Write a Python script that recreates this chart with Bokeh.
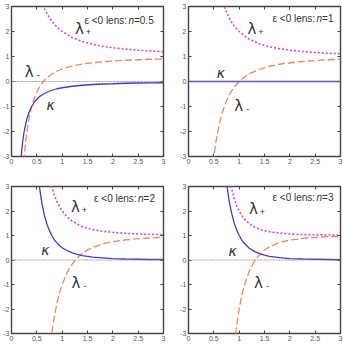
from bokeh.plotting import figure
from bokeh.layouts import column, row
from bokeh.models import LinearAxis, Span, Label, FixedTicker, Range1d
from bokeh.embed import file_html
from bokeh.resources import INLINE

# ---------------- data ----------------
n_values = ["0.5", "1", "2", "3"]

theta_n05 = [0.15, 0.175, 0.2, 0.225, 0.25, 0.3, 0.35, 0.4, 0.45, 0.5, 0.55, 0.6, 0.65, 0.7,
             0.8, 0.9, 1.0, 1.2, 1.4, 1.6, 1.8, 2.0, 2.25, 2.5, 2.75, 3.0]
kappa_n05 = [-4.30, -3.42, -2.80, -2.34, -2.00, -1.52, -1.21, -0.99, -0.83, -0.71, -0.61, -0.54,
             -0.48, -0.43, -0.35, -0.29, -0.25, -0.19, -0.15, -0.12, -0.10, -0.09, -0.07, -0.06,
             -0.055, -0.05]
lplus_n05 = [18.2, 14.66, 12.18, 10.37, 9.0, 7.09, 5.83, 4.95, 4.31, 3.83, 3.45, 3.15, 2.91, 2.71,
             2.40, 2.17, 2.0, 1.76, 1.60, 1.49, 1.41, 1.35, 1.30, 1.25, 1.22, 1.19]
lminus_n05 = [-7.6, -5.83, -4.59, -3.69, -3.0, -2.05, -1.42, -0.98, -0.66, -0.42, -0.23, -0.08,
              0.05, 0.15, 0.30, 0.42, 0.50, 0.62, 0.70, 0.75, 0.79, 0.82, 0.85, 0.87, 0.89, 0.90]

theta_n1 = [0.4, 0.45, 0.5, 0.55, 0.6, 0.65, 0.7, 0.75, 0.8, 0.85, 0.9, 1.0, 1.1, 1.2, 1.4, 1.6,
            1.8, 2.0, 2.25, 2.5, 2.75, 3.0]
theta_kappa_n1 = [0.0, 3.0]
kappa_n1 = [0.0, 0.0]
lplus_n1 = [7.25, 5.94, 5.0, 4.31, 3.78, 3.37, 3.04, 2.78, 2.56, 2.38, 2.23, 2.0, 1.83, 1.69, 1.51,
            1.39, 1.31, 1.25, 1.20, 1.16, 1.13, 1.11]
lminus_n1 = [-5.25, -3.94, -3.0, -2.31, -1.78, -1.37, -1.04, -0.78, -0.56, -0.38, -0.23, 0.0, 0.17,
             0.31, 0.49, 0.61, 0.69, 0.75, 0.80, 0.84, 0.87, 0.89]

theta_n2 = [0.45, 0.5, 0.55, 0.6, 0.65, 0.7, 0.75, 0.8, 0.85, 0.9, 0.95, 1.0, 1.1, 1.2, 1.3, 1.4,
            1.5, 1.6, 1.8, 2.0, 2.25, 2.5, 2.75, 3.0]
kappa_n2 = [5.49, 4.0, 3.0, 2.31, 1.82, 1.46, 1.19, 0.98, 0.81, 0.69, 0.58, 0.5, 0.38, 0.29, 0.23,
            0.18, 0.15, 0.12, 0.09, 0.06, 0.04, 0.03, 0.02, 0.02]
lplus_n2 = [11.97, 9.0, 7.01, 5.63, 4.64, 3.92, 3.37, 2.95, 2.63, 2.37, 2.17, 2.0, 1.75, 1.58, 1.46,
            1.36, 1.30, 1.24, 1.17, 1.13, 1.09, 1.06, 1.05, 1.04]
lminus_n2 = [-20.9, -15.0, -11.0, -8.26, -6.28, -4.83, -3.74, -2.91, -2.26, -1.74, -1.33, -1.0,
             -0.50, -0.16, 0.09, 0.27, 0.41, 0.51, 0.66, 0.75, 0.82, 0.87, 0.90, 0.93]

theta_n3 = [0.6, 0.65, 0.7, 0.75, 0.8, 0.85, 0.9, 0.95, 1.0, 1.05, 1.1, 1.2, 1.3, 1.4, 1.5, 1.6,
            1.8, 2.0, 2.25, 2.5, 2.75, 3.0]
kappa_n3 = [7.72, 5.60, 4.16, 3.16, 2.44, 1.92, 1.52, 1.23, 1.0, 0.82, 0.68, 0.48, 0.35, 0.26, 0.20,
            0.15, 0.10, 0.06, 0.04, 0.03, 0.02, 0.01]
lplus_n3 = [8.72, 6.60, 5.16, 4.16, 3.44, 2.92, 2.52, 2.23, 2.0, 1.82, 1.68, 1.48, 1.35, 1.26, 1.20,
            1.15, 1.10, 1.06, 1.04, 1.03, 1.02, 1.01]
lminus_n3 = [-22.2, -15.8, -11.5, -8.49, -6.32, -4.77, -3.57, -2.69, -2.0, -1.47, -1.05, -0.45,
             -0.05, 0.22, 0.41, 0.54, 0.72, 0.81, 0.88, 0.92, 0.95, 0.96]

xtick_vals = [0, 0.5, 1, 1.5, 2, 2.5, 3]
xtick_labels = ["0", "0.5", "1", "1.5", "2", "2.5", "3"]
ytick_vals = [-3, -2, -1, 0, 1, 2, 3]
ytick_labels = ["-3", "-2", "-1", "0", "1", "2", "3"]

# ---------------- style ----------------
C_KAPPA = "#3c3cd4"
C_LPLUS = "#e040e0"
C_LMINUS = "#f0875a"
FONT = "Liberation Sans"
TICK_COLOR = "#555555"


def make_panel(theta, theta_k, kappa, lplus, lminus, ntext, pos, borders, fh):
    left, right, top, bottom = borders
    p = figure(frame_width=152, frame_height=fh,
               x_range=Range1d(0, 3), y_range=Range1d(-3, 3),
               output_backend="svg", toolbar_location=None,
               min_border_left=left, min_border_right=right,
               min_border_top=top, min_border_bottom=bottom,
               x_axis_type=None, y_axis_type=None)
    p.background_fill_color = "white"
    p.border_fill_color = "white"
    p.outline_line_color = "#444444"
    p.outline_line_width = 1.4
    p.grid.visible = False

    xo = {v: s for v, s in zip(xtick_vals, xtick_labels)}
    yo = {v: s for v, s in zip(ytick_vals, ytick_labels)}
    xe = {v: "" for v in xtick_vals}
    ye = {v: "" for v in ytick_vals}

    for place, ticks, ov, show in (("below", xtick_vals, xo, True), ("above", xtick_vals, xe, False),
                                    ("left", ytick_vals, yo, True), ("right", ytick_vals, ye, False)):
        ax = LinearAxis(ticker=FixedTicker(ticks=ticks), major_label_overrides=ov)
        ax.axis_line_color = None
        ax.major_tick_in = 3
        ax.major_tick_out = 0
        ax.major_tick_line_color = "#444444"
        ax.minor_tick_line_color = None
        ax.major_label_text_font = FONT
        ax.major_label_text_font_size = "7px"
        ax.major_label_text_color = TICK_COLOR
        ax.major_label_standoff = 2 if show else 0
        p.add_layout(ax, place)

    p.add_layout(Span(location=0, dimension="width", line_color="#888888",
                      line_width=0.8, line_dash="2 1"))

    p.line(theta, lplus, line_color=C_LPLUS, line_width=1.6, line_dash="2 2")
    p.line(theta, lminus, line_color=C_LMINUS, line_width=1.3, line_dash="7 3")
    p.line(theta_k, kappa, line_color=C_KAPPA, line_width=1.3)

    ex, ey = pos["eps"]
    p.add_layout(Label(x=ex, y=ey, text="ε <0 lens:", text_font=FONT, text_font_size="10px",
                       text_color="#333333", text_align="left", text_baseline="middle"))
    p.add_layout(Label(x=ex, y=ey, x_offset=44, text="n", text_font=FONT, text_font_size="10px",
                       text_font_style="italic", text_color="#333333", text_align="left",
                       text_baseline="middle"))
    p.add_layout(Label(x=ex, y=ey, x_offset=49.5, text="=" + ntext, text_font=FONT,
                       text_font_size="10px", text_color="#333333", text_align="left",
                       text_baseline="middle"))

    for key, sub in (("lplus", "+"), ("lminus", "-")):
        lx, ly = pos[key]
        p.add_layout(Label(x=lx, y=ly, text="λ", text_font="DejaVu Sans", text_font_size="15px",
                           text_color="#333333", text_align="center", text_baseline="middle"))
        p.add_layout(Label(x=lx, y=ly, x_offset=9, y_offset=-3, text=sub, text_font=FONT,
                           text_font_size="9px", text_color="#333333", text_align="center",
                           text_baseline="middle"))
    kx, ky = pos["kappa"]
    p.add_layout(Label(x=kx, y=ky, text="κ", text_font="DejaVu Sans", text_font_size="14px",
                       text_font_style="italic", text_color="#333333", text_align="center",
                       text_baseline="middle"))
    p.add_layout(Label(x=1.5, y=-3, y_offset=-15, text="θ", text_font="DejaVu Sans",
                       text_font_size="10px", text_font_style="italic", text_color="#333333",
                       text_align="center", text_baseline="middle"))
    return p


pos_tl = {"eps": (1.44, 2.46), "lplus": (1.34, 2.1), "lminus": (0.35, 0.38), "kappa": (0.77, -0.94)}
pos_tr = {"eps": (1.66, 2.54), "lplus": (1.25, 2.1), "lminus": (0.99, -0.98), "kappa": (0.64, 0.36)}
pos_bl = {"eps": (1.63, 2.5), "lplus": (1.26, 2.16), "lminus": (1.27, -0.94), "kappa": (0.67, 0.42)}
pos_br = {"eps": (1.66, 2.54), "lplus": (1.28, 2.1), "lminus": (1.38, -0.94), "kappa": (0.87, 0.36)}

p1 = make_panel(theta_n05, theta_n05, kappa_n05, lplus_n05, lminus_n05, n_values[0], pos_tl,
                (10, 10, 6, 25), 150)
p2 = make_panel(theta_n1, theta_kappa_n1, kappa_n1, lplus_n1, lminus_n1, n_values[1], pos_tr,
                (15, 4, 6, 25), 150)
p3 = make_panel(theta_n2, theta_n2, kappa_n2, lplus_n2, lminus_n2, n_values[2], pos_bl,
                (10, 10, 5, 21), 147)
p4 = make_panel(theta_n3, theta_n3, kappa_n3, lplus_n3, lminus_n3, n_values[3], pos_br,
                (15, 4, 5, 21), 147)

layout = column(row(p1, p2), row(p3, p4))
open("out.html", "w").write(file_html(layout, INLINE))
